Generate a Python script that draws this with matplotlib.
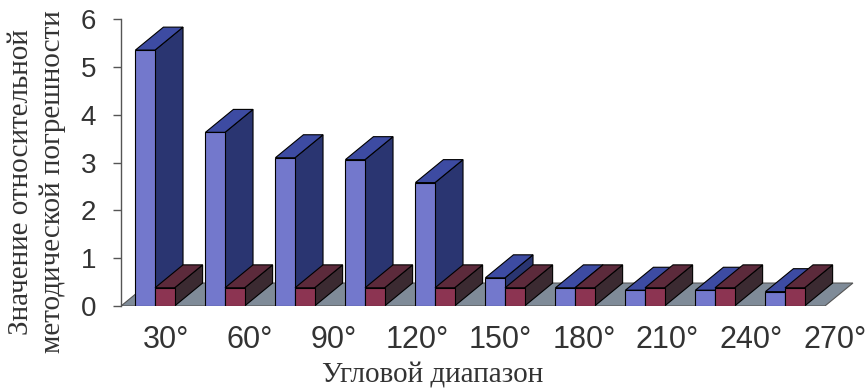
import matplotlib.pyplot as plt
from matplotlib.patches import Polygon
import numpy as np

# Values
groups = 10
blue_values = [5.35, 3.63, 3.1, 3.06, 2.58, 0.59, 0.38, 0.33, 0.33, 0.3]
red_values = [0.38, 0.38, 0.38, 0.38, 0.38, 0.38, 0.38, 0.38, 0.38, 0.38]
angle_labels = ["30°", "60°", "90°", "120°", "150°", "180°", "210°", "240°", "270°"]
y_ticks = [0, 1, 2, 3, 4, 5, 6]

# 3D look: depth offset of the columns (x in categories, y in values)
DX = 0.4
DY = 0.48
BAR_W = 0.28

blue_cols = ("#7378cc", "#3d4ba2", "#2a3571")   # front, top, side
red_cols = ("#8c3452", "#5c2a3b", "#3b2a31")


def draw_column(ax, x0, x1, h, cols):
    front, top, side = cols
    kw = dict(edgecolor="black", linewidth=0.8, joinstyle="miter")
    # side face
    ax.add_patch(Polygon([(x1, 0), (x1 + DX, DY), (x1 + DX, h + DY), (x1, h)],
                         facecolor=side, **kw))
    # top face
    ax.add_patch(Polygon([(x0, h), (x1, h), (x1 + DX, h + DY), (x0 + DX, h + DY)],
                         facecolor=top, **kw))
    # front face
    ax.add_patch(Polygon([(x0, 0), (x1, 0), (x1, h), (x0, h)],
                         facecolor=front, **kw))


plt.rcParams["font.family"] = ["Liberation Sans", "DejaVu Sans"]

fig = plt.figure(figsize=(8.65, 3.92), dpi=100)
ax = fig.add_axes([121 / 865, 86 / 392, 744 / 865, 287 / 392])

x_left = -0.486
x_right = 9.57
ax.set_xlim(x_left, x_left + 744 / 70)
ax.set_ylim(0, 6)

# floor
ax.add_patch(Polygon([(x_left, 0), (x_right, 0), (x_right + DX, DY), (x_left + DX, DY)],
                     facecolor="#7f8b98", edgecolor="#555555", linewidth=0.8, zorder=0))

# columns, left to right so later ones cover hidden sides
for i in range(groups):
    draw_column(ax, i - BAR_W, i, blue_values[i], blue_cols)
    draw_column(ax, i, i + BAR_W, red_values[i], red_cols)

for s in ["top", "right", "bottom"]:
    ax.spines[s].set_visible(False)
ax.spines["left"].set_color("#555555")
ax.spines["left"].set_linewidth(1.0)

ax.set_yticks(y_ticks)
ax.tick_params(axis="y", direction="out", length=6, width=1, color="#555555",
               labelsize=20, labelcolor="#333333", pad=12)

ax.set_xticks(np.linspace(0.16, 9.71, len(angle_labels)))
ax.set_xticklabels(angle_labels)
ax.tick_params(axis="x", length=0, labelsize=22, labelcolor="#333333", pad=14)

fig.text(37 / 865, 1 - 182 / 392, "Значение относительной\nметодической погрешности",
         rotation=90, ha="center", va="center", multialignment="center",
         family=["Liberation Serif", "DejaVu Serif"], fontsize=21, color="#333333",
         linespacing=1.25)
fig.text(433 / 865, 9 / 392, "Угловой диапазон", ha="center", va="baseline",
         family=["Liberation Serif", "DejaVu Serif"], fontsize=21, color="#333333")

fig.savefig("out.png", dpi=100)
